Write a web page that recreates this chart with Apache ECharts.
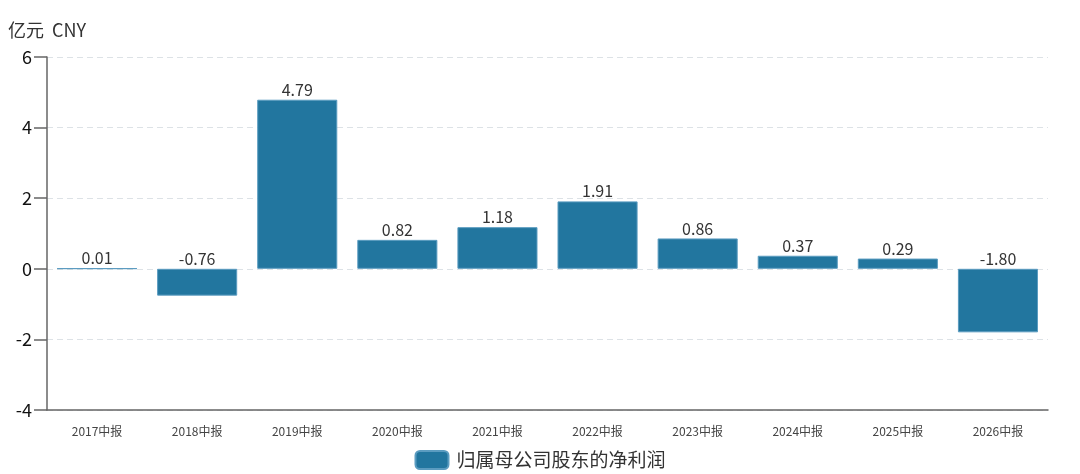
<!DOCTYPE html>
<html>
<head>
<meta charset="utf-8">
<script src="https://cdn.jsdelivr.net/npm/echarts@6/dist/echarts.min.js"></script>
<style>html,body{margin:0;padding:0;background:#fff;}#c{width:1080px;height:474px;}</style>
</head>
<body>
<div id="c"></div>
<script>
const categories = ['2017中报','2018中报','2019中报','2020中报','2021中报','2022中报','2023中报','2024中报','2025中报','2026中报'];
const profit = [0.01, -0.76, 4.79, 0.82, 1.18, 1.91, 0.86, 0.37, 0.29, -1.80];
const seriesName = '归属母公司股东的净利润';
const unitName = '亿元  CNY';

const chart = echarts.init(document.getElementById('c'));
const font = '"Noto Sans CJK SC", "Microsoft YaHei", sans-serif';
chart.setOption({
  animation: false,
  textStyle: { fontFamily: font },
  grid: { left: 47, right: 32, top: 57, bottom: 64, containLabel: false },
  legend: {
    top: 445, left: 'center',
    icon: 'roundRect', itemWidth: 33, itemHeight: 18, itemGap: 10,
    textStyle: { fontSize: 19, color: '#333', fontFamily: font, padding: [0, 0, 0, 3] },
    data: [seriesName]
  },
  xAxis: {
    type: 'category',
    data: categories,
    axisLine: { onZero: false, lineStyle: { color: '#666', width: 1.5 } },
    axisTick: { alignWithLabel: true, length: 10, lineStyle: { color: '#666', width: 1.5 } },
    axisLabel: { fontSize: 12, color: '#444', margin: 15, fontFamily: font }
  },
  yAxis: {
    type: 'value',
    min: -4, max: 6, interval: 2,
    name: unitName,
    nameLocation: 'end',
    nameGap: 18,
    nameTextStyle: { fontSize: 18, color: '#333', align: 'center', fontFamily: font },
    axisLine: { show: true, lineStyle: { color: '#666', width: 1.5 } },
    axisTick: { show: true, length: 13, lineStyle: { color: '#666', width: 1.5 } },
    axisLabel: { fontSize: 18, color: '#111', margin: 15, fontFamily: font },
    splitLine: { lineStyle: { type: [6, 4], color: '#dde2e6', width: 1 } }
  },
  series: [{
    name: seriesName,
    type: 'bar',
    data: profit,
    barWidth: '80%',
    itemStyle: { color: '#22769f', borderColor: '#5b9cc0', borderWidth: 1 },
    label: {
      show: true, position: 'top', distance: 2,
      fontSize: 16, color: '#333', fontFamily: font,
      formatter: p => p.value.toFixed(2)
    }
  }]
});
</script>
</body>
</html>
